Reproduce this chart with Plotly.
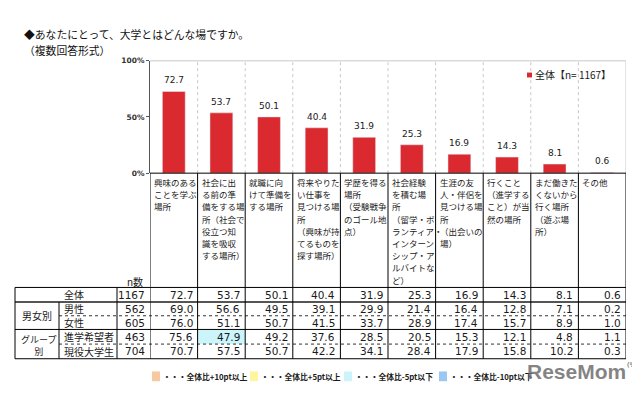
import plotly.graph_objects as go

# ---------------- data ----------------
title_lines = ["◆あなたにとって、大学とはどんな場ですか。", "（複数回答形式）"]
series_name = "全体【n= 1167】"

category_lines = [
    ["興味のある", "ことを学ぶ", "場所"],
    ["社会に出", "る前の準", "備をする場", "所（社会で", "役立つ知", "識を吸収", "する場所）"],
    ["就職に向", "けて準備を", "する場所"],
    ["将来やりた", "い仕事を", "見つける場", "所", "（興味が持", "てるものを", "探す場所）"],
    ["学歴を得る", "場所", "（受験戦争", "のゴール地", "点）"],
    ["社会経験", "を積む場", "所", "（留学・ボ", "ランティア・", "インターン", "シップ・ア", "ルバイトな", "ど）"],
    ["生涯の友", "人・伴侶を", "見つける場", "所", "（出会いの", "場）"],
    ["行くこと", "（進学する", "こと）が当", "然の場所"],
    ["まだ働きた", "くないから", "行く場所", "（遊ぶ場", "所）"],
    ["その他"],
]
overall_pct = [72.7, 53.7, 50.1, 40.4, 31.9, 25.3, 16.9, 14.3, 8.1, 0.6]

n_header = "n数"
row_labels = ["全体", "男性", "女性", "進学希望者", "現役大学生"]
group_labels = ["男女別", "グループ<br>別"]
n_counts = [1167, 562, 605, 463, 704]
table_values = [
    [72.7, 53.7, 50.1, 40.4, 31.9, 25.3, 16.9, 14.3, 8.1, 0.6],
    [69.0, 56.6, 49.5, 39.1, 29.9, 21.4, 16.4, 12.8, 7.1, 0.2],
    [76.0, 51.1, 50.7, 41.5, 33.7, 28.9, 17.4, 15.7, 8.9, 1.0],
    [75.6, 47.9, 49.2, 37.6, 28.5, 20.5, 15.3, 12.1, 4.8, 1.1],
    [70.7, 57.5, 50.7, 42.2, 34.1, 28.4, 17.9, 15.8, 10.2, 0.3],
]
y_tick_values = [0, 50, 100]
y_tick_labels = ["0%", "50%", "100%"]
legend_labels = ["・・・全体比+10pt以上", "・・・全体比+5pt以上",
                 "・・・全体比-5pt以下", "・・・全体比-10pt以下"]
legend_colors = ["#F8C9A0", "#FFF59E", "#CCF4FB", "#9CC7F0"]
unit_label = "(%)"
watermark = "ReseMom"

# ---------------- styles ----------------
OFF = 8                      # page body margin
W, H = 640 - OFF, 395 - OFF  # figure size
RED = "#DA2A2F"
TXT = "#1a1a1a"
JP = "Noto Sans CJK JP"
NUM = "DejaVu Sans"


def fx(p):
    return (p - OFF) / W


def fy(p):
    return 1 - (p - OFF) / H


def highlight(diff):
    if diff >= 10:
        return legend_colors[0]
    if diff >= 5:
        return legend_colors[1]
    if diff <= -10:
        return legend_colors[3]
    if diff <= -5:
        return legend_colors[2]
    return None


idx = list(range(len(overall_pct)))
fig = go.Figure()
fig.add_trace(go.Bar(x=idx, y=overall_pct, marker_color=RED, width=0.48,
                     name=series_name, hoverinfo="skip"))

ann = []
shapes = []


def text(x, y, s, xanchor="center", yanchor="middle", xref="paper", yref="paper", **kw):
    d = dict(x=x, y=y, xref=xref, yref=yref, text=s, showarrow=False,
             xanchor=xanchor, yanchor=yanchor)
    d.update(kw)
    ann.append(d)


# value labels above bars
for i, v in zip(idx, overall_pct):
    text(i, v, f"{v:.1f}", xref="x", yref="y", yanchor="bottom", yshift=4,
         font=dict(family=NUM, size=9, color=TXT))

# category label lines
for i, lines in enumerate(category_lines):
    for k, line in enumerate(lines):
        text(i - 0.5, fy(182 + 12.5 * k), line, xref="x", xanchor="left", xshift=2,
             font=dict(family=JP, size=8.5, color=TXT))

# table geometry (pixels)
row_edges = [290, 305, 319, 333, 348, 363]
row_centers = [(row_edges[r] + row_edges[r + 1]) / 2 for r in range(5)]
n_cols = len(idx)

# highlighted cells
for r in range(1, 5):
    for c in range(n_cols):
        col = highlight(table_values[r][c] - table_values[0][c])
        if col:
            shapes.append(dict(type="rect", xref="x", yref="paper", x0=c - 0.5, x1=c + 0.5,
                               y0=fy(row_edges[r + 1]), y1=fy(row_edges[r]),
                               fillcolor=col, line=dict(width=0), layer="below"))

# table text
for r, lab in enumerate(row_labels):
    text(fx(62), fy(row_centers[r]), lab, xanchor="left",
         font=dict(family=JP, size=10, color=TXT))
    text(fx(149), fy(row_centers[r]), str(n_counts[r]), xanchor="right", xshift=-2,
         font=dict(family=NUM, size=10.5, color=TXT))
    for c in range(n_cols):
        text(c + 0.5, fy(row_centers[r]), f"{table_values[r][c]:.1f}", xref="x",
             xanchor="right", xshift=-3, font=dict(family=NUM, size=10.5, color=TXT))

text(fx(37), fy(319), group_labels[0], font=dict(family=JP, size=10, color=TXT))
text(fx(38), fy(349), group_labels[1], font=dict(family=JP, size=9, color=TXT))
text(fx(135), fy(284), n_header, font=dict(family=JP, size=10, color=TXT))


# table lines
def hline(y, x0, x1, color="black", width=1, dash="solid"):
    shapes.append(dict(type="line", xref="paper", yref="paper", x0=fx(x0), x1=fx(x1),
                       y0=fy(y), y1=fy(y), line=dict(color=color, width=width, dash=dash)))


def vline_paper(x, y0, y1, color="black", width=1):
    shapes.append(dict(type="line", xref="paper", yref="paper", x0=fx(x), x1=fx(x),
                       y0=fy(y0), y1=fy(y1), line=dict(color=color, width=width)))


hline(290, 15, 626)
hline(305, 15, 626, color="#555555", width=2)
hline(319, 59, 626, color="#333333", dash="dot")
hline(333, 15, 626)
hline(348, 59, 626, color="#333333", dash="dot")
hline(363, 15, 626)
vline_paper(15, 290, 363)
vline_paper(59, 305, 363)
vline_paper(117, 290, 363)

for b in range(n_cols + 1):
    xb = b - 0.5
    shapes.append(dict(type="line", xref="x", yref="paper", x0=xb, x1=xb,
                       y0=fy(363), y1=fy(173), line=dict(color="black", width=1)))
    if 0 < b < n_cols:
        shapes.append(dict(type="line", xref="x", yref="paper", x0=xb, x1=xb,
                           y0=fy(173), y1=fy(58), line=dict(color="#c8c8c8", width=1, dash="dot"),
                           layer="below"))
# right border & top border of plot area
shapes.append(dict(type="line", xref="x", yref="paper", x0=n_cols - 0.5, x1=n_cols - 0.5,
                   y0=fy(173), y1=fy(58), line=dict(color="#c8c8c8", width=1)))
shapes.append(dict(type="line", xref="x", yref="paper", x0=-0.5, x1=n_cols - 0.5,
                   y0=fy(58), y1=fy(58), line=dict(color="#c8c8c8", width=1)))
# x axis line
shapes.append(dict(type="line", xref="x", yref="paper", x0=-0.5, x1=n_cols - 0.5,
                   y0=fy(173), y1=fy(173), line=dict(color="black", width=1)))

# legend (top right)
shapes.append(dict(type="rect", xref="paper", yref="paper", x0=fx(527), x1=fx(532),
                   y0=fy(75), y1=fy(70), fillcolor=RED, line=dict(width=0)))
text(fx(533), fy(72), series_name, xanchor="left", font=dict(family=JP, size=10, color=TXT))

# bottom legend
leg_x = [152, 250, 344, 439]
for lx, lab, col in zip(leg_x, legend_labels, legend_colors):
    shapes.append(dict(type="rect", xref="paper", yref="paper", x0=fx(lx), x1=fx(lx + 8),
                       y0=fy(386), y1=fy(376), fillcolor=col, line=dict(width=0)))
    text(fx(lx + 9), fy(381), lab, xanchor="left",
         font=dict(family=JP, size=7.8, color=TXT, weight="bold"))

# title
text(fx(22), fy(30.5), title_lines[0], xanchor="left",
     font=dict(family=JP, size=10.8, color="#111"))
text(fx(22), fy(47), title_lines[1], xanchor="left",
     font=dict(family=JP, size=10.8, color="#111"))

# unit + watermark
text(fx(632), fy(369), unit_label, font=dict(family=NUM, size=6.5, color="#444"))
text(fx(576), fy(376), watermark,
     font=dict(family="Liberation Sans Narrow, Liberation Sans", size=21,
               color="rgba(110,110,110,0.85)", weight="bold"))

fig.update_layout(
    width=W, height=H, margin=dict(l=0, r=0, t=0, b=0),
    paper_bgcolor="white", plot_bgcolor="white", showlegend=False,
    xaxis=dict(domain=[fx(150), fx(626)], range=[-0.5, n_cols - 0.5], showticklabels=False,
               showgrid=False, zeroline=False, ticks=""),
    yaxis=dict(domain=[fy(173), fy(58)], range=[0, 100], tickvals=y_tick_values,
               ticktext=y_tick_labels, showgrid=False, zeroline=False, showline=True,
               linecolor="#555555", linewidth=1, ticks="outside", ticklen=3, tickcolor="#555555",
               tickfont=dict(family=NUM, size=7.5, color="#333", weight="bold")),
    annotations=ann, shapes=shapes,
)

fig.write_html("out.html")
